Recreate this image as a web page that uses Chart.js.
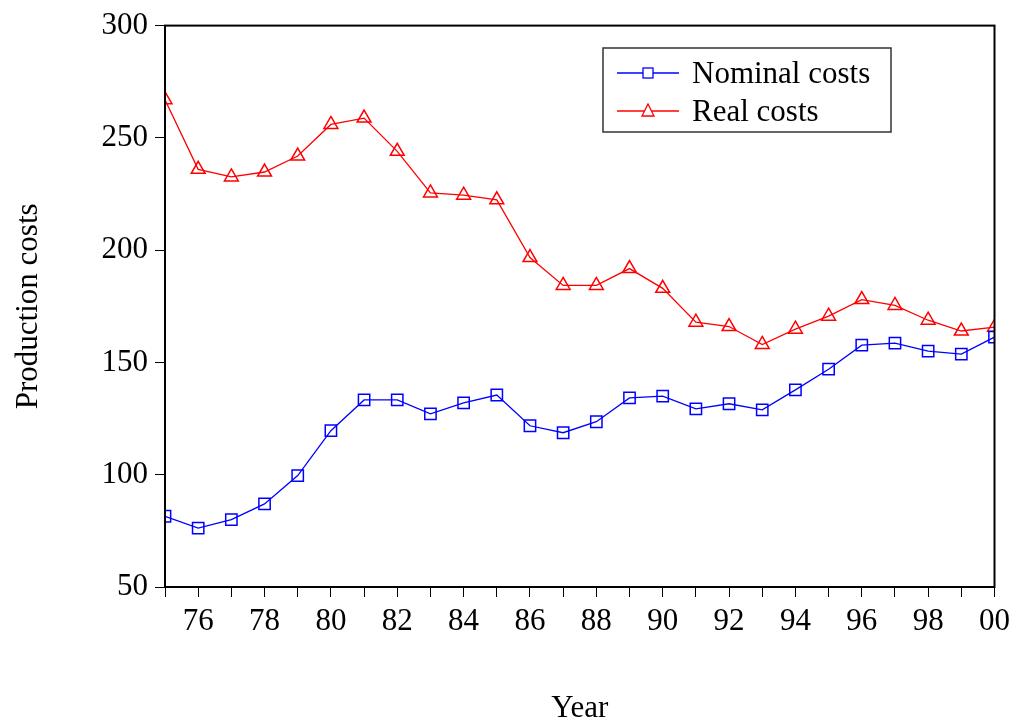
<!DOCTYPE html>
<html>
<head>
<meta charset="utf-8">
<script src="https://cdn.jsdelivr.net/npm/chart.js@4.4.1/dist/chart.umd.min.js"></script>
<style>
  html, body { margin: 0; padding: 0; background: #fff; }
  #wrap { width: 1016px; height: 723px; }
</style>
</head>
<body>
<div id="wrap"><canvas id="chart" width="1016" height="723"></canvas></div>
<script>
// veriler (grafikten okunan yaklaşık değerler)
const years = [1975, 1976, 1977, 1978, 1979, 1980, 1981, 1982, 1983, 1984, 1985, 1986, 1987,
               1988, 1989, 1990, 1991, 1992, 1993, 1994, 1995, 1996, 1997, 1998, 1999, 2000];
const nominalCosts = [81.5, 76.2, 80, 87, 99.6, 119.6, 133.3, 133.3, 127.1, 132, 135.5, 121.8, 118.7,
                      123.6, 134.2, 135, 129.3, 131.6, 128.9, 137.8, 147, 157.7, 158.6, 155, 153.7, 161.3];
const realCosts = [267, 236, 232.6, 234.8, 241.9, 256, 258.8, 244, 225.5, 224.5, 222.4, 196.7, 184.3,
                   184.3, 191.8, 183, 167.9, 166, 158, 164.8, 170.6, 178, 175.4, 168.8, 164, 165.7];
const yTicks = [50, 100, 150, 200, 250, 300];

const serif = 'Liberation Serif, Times New Roman, serif';

// çerçeve (üst ve sağ kenar)
const frame = {
    id: 'frame',
    afterDraw(chart) {
        const { ctx, chartArea: a } = chart;
        ctx.save();
        ctx.strokeStyle = '#000';
        ctx.lineWidth = 2;
        ctx.strokeRect(a.left, a.top, a.right - a.left, a.bottom - a.top);
        ctx.restore();
    }
};

// çizgi + işaretli lejant kutusu
const boxLegend = {
    id: 'boxLegend',
    afterDraw(chart) {
        const ctx = chart.ctx;
        ctx.save();
        ctx.strokeStyle = '#333';
        ctx.lineWidth = 1.5;
        ctx.strokeRect(603, 48, 288, 84);
        ctx.font = '31px ' + serif;
        ctx.textBaseline = 'middle';
        chart.data.datasets.forEach((ds, i) => {
            const y = 73 + i * 38;
            ctx.strokeStyle = ds.borderColor;
            ctx.lineWidth = 1.3;
            ctx.beginPath();
            ctx.moveTo(617, y);
            ctx.lineTo(679, y);
            ctx.stroke();
            ctx.fillStyle = '#fff';
            if (ds.pointStyle === 'rect') {
                ctx.fillRect(643, y - 5, 10, 10);
                ctx.strokeRect(643, y - 5, 10, 10);
            } else {
                ctx.beginPath();
                ctx.moveTo(648, y - 7);
                ctx.lineTo(654, y + 5);
                ctx.lineTo(642, y + 5);
                ctx.closePath();
                ctx.fill();
                ctx.stroke();
            }
            ctx.fillStyle = '#000';
            ctx.fillText(ds.label, 692, y + 2);
        });
        ctx.restore();
    }
};

new Chart(document.getElementById('chart'), {
    type: 'line',
    data: {
        datasets: [{
            label: 'Nominal costs',
            data: years.map((x, i) => ({ x: x, y: nominalCosts[i] })),
            borderColor: '#0000ff',
            borderWidth: 1.3,
            pointStyle: 'rect',
            pointRadius: 8,
            pointBorderWidth: 1.5,
            pointBackgroundColor: 'rgba(0,0,0,0)',
            pointBorderColor: '#0000ff',
            tension: 0
        }, {
            label: 'Real costs',
            data: years.map((x, i) => ({ x: x, y: realCosts[i] })),
            borderColor: '#ff0000',
            borderWidth: 1.3,
            pointStyle: 'triangle',
            pointRadius: 8,
            pointBorderWidth: 1.5,
            pointBackgroundColor: 'rgba(0,0,0,0)',
            pointBorderColor: '#ff0000',
            tension: 0
        }]
    },
    options: {
        responsive: false,
        animation: false,
        devicePixelRatio: 1,
        layout: { padding: { top: 23, right: 18, left: 0, bottom: 0 } },
        plugins: {
            legend: { display: false },
            tooltip: { enabled: false }
        },
        scales: {
            x: {
                type: 'linear',
                min: 1975,
                max: 2000,
                afterFit(scale) { scale.height = 136; },
                afterBuildTicks(scale) { scale.ticks = years.map(v => ({ value: v })); },
                ticks: {
                    autoSkip: false,
                    maxRotation: 0,
                    padding: 6,
                    color: '#000',
                    font: { family: serif, size: 31 },
                    callback: v => (v % 2 === 0 ? String(v % 100).padStart(2, '0') : '')
                },
                grid: { drawOnChartArea: false, drawTicks: true, tickLength: 10, color: '#000', tickWidth: 1 },
                border: { color: '#000', width: 2 },
                title: {
                    display: true, text: 'Year', color: '#000',
                    font: { family: serif, size: 31, lineHeight: 1 },
                    padding: { top: 0, bottom: -1 }
                }
            },
            y: {
                min: 50,
                max: 300,
                afterFit(scale) { scale.width = 165; },
                afterBuildTicks(scale) { scale.ticks = yTicks.map(v => ({ value: v })); },
                ticks: {
                    padding: 7,
                    color: '#000',
                    font: { family: serif, size: 31 }
                },
                grid: { drawOnChartArea: false, drawTicks: true, tickLength: 10, color: '#000', tickWidth: 1 },
                border: { color: '#000', width: 2 },
                title: {
                    display: true, text: 'Production costs', color: '#000',
                    font: { family: serif, size: 31, lineHeight: 1.2 },
                    padding: { top: 10, bottom: 0 }
                }
            }
        }
    },
    plugins: [frame, boxLegend]
});
</script>
</body>
</html>
